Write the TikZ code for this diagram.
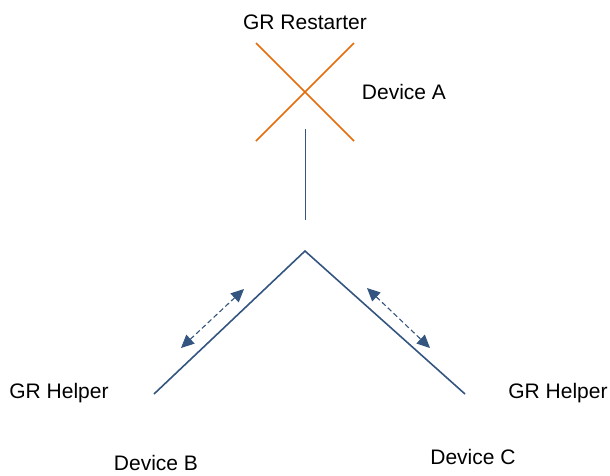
\documentclass[tikz,border=0pt]{standalone}
\usepackage{fontspec}
\setmainfont{Liberation Sans}
\usetikzlibrary{arrows.meta, positioning}
\definecolor{linkblue}{RGB}{52,85,128}
\definecolor{failorange}{RGB}{228,108,10}
\tikzset{
    x=1pt, y=-1pt, % one unit per point, y grows downwards
    label/.style={font=\fontsize{21}{25}\selectfont, inner sep=0pt}, % text beside the devices
    link/.style={draw=linkblue, line width=1.6pt}, % the links between devices
    msg/.style={draw=linkblue, line width=1.1pt, dash pattern=on 5pt off 3pt,
        {Triangle[length=13pt,width=12pt]}-{Triangle[length=13pt,width=12pt]}}, % GR messages
    cross/.style={draw=failorange, line width=1.6pt}, % restarting device
}

\begin{document}
\begin{tikzpicture}
    \useasboundingbox (0,0) rectangle (610,475);

    % device A (restarter)
    \node[label] at (305,22) (RESTARTER) {GR Restarter};
    \node[label] at (404,92) (DEVA) {Device A};
    \coordinate (XNW) at (256,43);
    \coordinate (XNE) at (354,43);
    \coordinate (XSW) at (256,141);
    \coordinate (XSE) at (354,141);
    \draw[cross] (XNW) -- (XSE);
    \draw[cross] (XNE) -- (XSW);

    % link down to the other two devices
    \coordinate (ATOP) at (305,129);
    \coordinate (ABOT) at (305,220);
    \draw[draw=linkblue, line width=0.6pt] (ATOP) -- (ABOT);

    \coordinate (APEX) at (305,251);
    \coordinate (BEND) at (154,394);
    \coordinate (CEND) at (465,394);
    \draw[link] (BEND) -- (APEX) -- (CEND);

    % messages between restarter and helpers
    \coordinate (BMSG1) at (181,348);
    \coordinate (BMSG2) at (244,289);
    \coordinate (CMSG1) at (367,288);
    \coordinate (CMSG2) at (430,348);
    \draw[msg] (BMSG1) -- (BMSG2);
    \draw[msg] (CMSG1) -- (CMSG2);

    % devices B and C (helpers)
    \node[label] at (59,393) (HELPERB) {GR Helper};
    \node[label] at (156,463) (DEVB) {Device B};
    \node[label] at (558,393) (HELPERC) {GR Helper};
    \node[label] at (473,457) (DEVC) {Device C};
\end{tikzpicture}
\end{document}
